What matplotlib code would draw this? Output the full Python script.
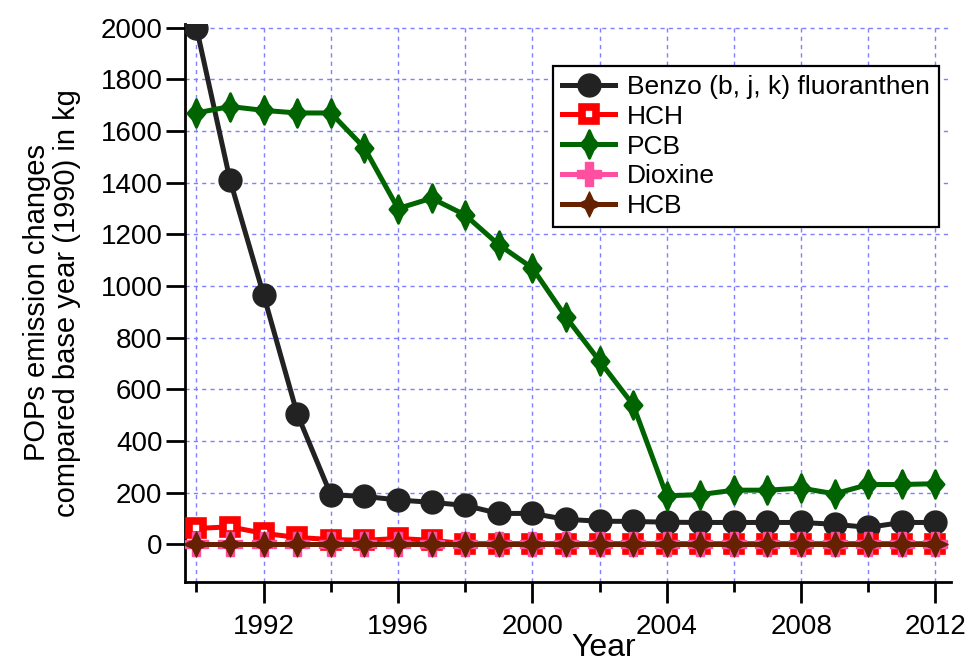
import numpy as np
import matplotlib
matplotlib.use("Agg")
import matplotlib.pyplot as plt
from matplotlib.path import Path
from matplotlib.ticker import MultipleLocator, FixedLocator

plt.rcParams['font.family'] = ['Liberation Sans', 'DejaVu Sans']

years = list(range(1990, 2013))
benzo = [2000, 1410, 965, 505, 192, 186, 172, 163, 151, 120, 120, 97, 90, 89,
         86, 85, 85, 85, 85, 78, 66, 85, 85]
hch = [62, 68, 43, 27, 19, 16, 23, 16, 3, 3, 3, 3, 3, 3,
       3, 3, 3, 3, 3, 3, 3, 3, 3]
pcb = [1670, 1695, 1680, 1670, 1670, 1535, 1300, 1340, 1275, 1160, 1070, 880, 710, 540,
       188, 193, 210, 210, 218, 196, 232, 232, 235]
dioxine = [0] * 23
hcb = [0] * 23


def star4(wx, wy, k=0.28):
    # four-point star with concave sides
    v = [(0, wy), (k * wx, k * wy), (wx, 0), (k * wx, -k * wy),
         (0, -wy), (-k * wx, -k * wy), (-wx, 0), (-k * wx, k * wy), (0, wy)]
    return Path(v, closed=True)


pcb_marker = star4(0.62, 1.0, 0.42)
hcb_marker = star4(1.0, 1.0, 0.32)

fig = plt.figure(figsize=(9.67, 6.62), dpi=100)
ax = fig.add_axes([0.191, 0.121, 0.792, 0.843])

lw = 3.6
ax.plot(years, benzo, color='#222222', lw=lw, marker='o', ms=16.5,
        label='Benzo (b, j, k) fluoranthen', zorder=3)
ax.plot(years, hch, color='#ff0000', lw=lw, marker='s', ms=10.5, mfc='white',
        mec='#ff0000', mew=5.5, label='HCH', zorder=3)
ax.plot(years, pcb, color='#006400', lw=lw, marker=pcb_marker, ms=20, mew=2,
        label='PCB', zorder=3)
ax.plot(years, dioxine, color='#ff4fa0', lw=lw, marker='P', ms=17,
        label='Dioxine', zorder=3)
ax.plot(years, hcb, color='#662200', lw=lw, marker=hcb_marker, ms=18,
        label='HCB', zorder=3)

ax.set_xlim(1989.65, 2012.45)
ax.set_ylim(-145, 2015)

ax.yaxis.set_major_locator(MultipleLocator(200))
ax.xaxis.set_major_locator(FixedLocator(range(1992, 2013, 4)))
ax.xaxis.set_minor_locator(FixedLocator(range(1990, 2013, 4)))
ax.tick_params(axis='both', labelsize=20, width=2, direction='out')
ax.tick_params(axis='y', length=14, pad=2)
ax.tick_params(axis='x', which='major', length=15, pad=8)
ax.tick_params(axis='x', which='minor', length=7.5, width=2)

for x in range(1990, 2013, 2):
    ax.axvline(x, color='#7f7fff', lw=1, ls=(0, (3, 3)), zorder=1)
for y in range(0, 2001, 200):
    ax.axhline(y, color='#7f7fff', lw=1, ls=(0, (3, 3)), zorder=1)

for s in ['top', 'right']:
    ax.spines[s].set_visible(False)
for s in ['left', 'bottom']:
    ax.spines[s].set_linewidth(2)

ax.set_ylabel('POPs emission changes\ncompared base year (1990) in kg', fontsize=21,
              labelpad=14, linespacing=1.1)
ax.set_xlabel('Year', fontsize=23)
ax.xaxis.set_label_coords(0.547, -0.092)

leg = ax.legend(loc='upper right', bbox_to_anchor=(0.985, 0.925), fontsize=19,
                frameon=True, fancybox=False, framealpha=1, handlelength=2.0,
                labelspacing=0.22, borderpad=0.35, handletextpad=0.45,
                borderaxespad=0)
leg.get_frame().set_edgecolor('black')
leg.get_frame().set_linewidth(1.6)

fig.savefig('out.png', dpi=100)
